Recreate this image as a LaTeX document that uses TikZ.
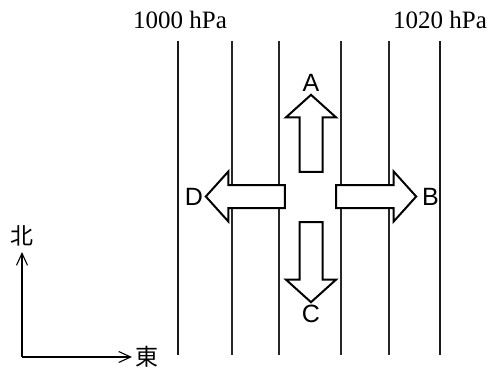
\documentclass[tikz,border=0pt]{standalone}
\usepackage{fontspec}
\setmainfont{Liberation Serif}
\newfontfamily\lettersf{Liberation Sans}
\newfontfamily\cjk{Noto Sans CJK JP}
\usetikzlibrary{arrows.meta, shapes.arrows, positioning}
\tikzset{
  isobar/.style={line width=1.2pt, black!85},
  isobarthick/.style={line width=2.5pt, black!90},
  seta/.style={single arrow, draw, fill=white, line width=2pt,
               inner xsep=0pt, inner ysep=10.5pt, minimum height=#1,
               single arrow head extend=13.5pt, single arrow head indent=0pt,
               single arrow tip angle=96},
  rot/.style={font=\lettersf\fontsize{25}{25}\selectfont},
  hpa/.style={font=\fontsize{25}{25}\selectfont},
  dir/.style={font=\cjk\fontsize{23}{23}\selectfont, inner sep=0pt},
  compass/.style={-{Straight Barb[length=12pt, width=11pt, line width=1.1pt]}, line width=1.2pt}
}
\begin{document}
\begin{tikzpicture}[x=1pt, y=-1pt]
  \useasboundingbox (0,0) rectangle (492,369);
  % isobars
  \foreach \x in {232, 279, 341, 389}
    \draw[isobar] (\x,41) -- (\x,355);
  \foreach \x in {178, 440}
    \draw[isobarthick] (\x,41) -- (\x,355);
  \node[hpa] (p1000) at (180,20) {1000 hPa};
  \node[hpa] (p1020) at (440,20) {1020 hPa};
  % wind arrows
  \node[seta=77pt, rotate=90] (sa) at (311,138.5) {};
  \node[seta=80pt, rotate=-90] (sc) at (311,257) {};
  \node[seta=79pt, rotate=180] (sd) at (250.5,196.5) {};
  \node[seta=80pt] (sb) at (371,196.5) {};
  \node[rot, above=-2pt of sa.tip] (la) {A};
  \node[rot, below=-2pt of sc.tip] (lc) {C};
  \node[rot, left=-2pt of sd.tip] (ld) {D};
  \node[rot, right=1pt of sb.tip] (lb) {B};
  % compass
  \coordinate (o) at (22,357);
  \coordinate (n) at (22,252);
  \coordinate (e) at (132,357);
  \draw[compass] (o) -- (n);
  \draw[compass] (o) -- (e);
  \node[dir, above=6pt of n] (bei) {北};
  \node[dir, right=3pt of e] (dong) {東};
\end{tikzpicture}
\end{document}
